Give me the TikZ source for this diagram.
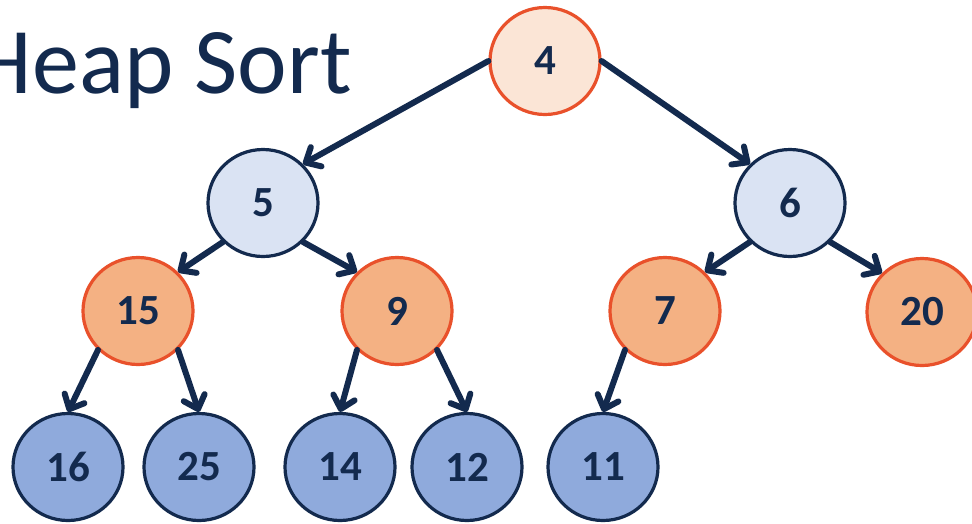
\documentclass[tikz,border=0pt]{standalone}
\usepackage{fontspec}
\setmainfont{Carlito}
\usetikzlibrary{shapes.geometric,arrows.meta}
\definecolor{navy}{HTML}{132A4E}
\definecolor{orangeline}{HTML}{E9512B}
\definecolor{peach}{HTML}{FBE5D6}
\definecolor{paleblue}{HTML}{DAE3F3}
\definecolor{orangefill}{HTML}{F4B183}
\definecolor{bluefill}{HTML}{8FAADC}
\tikzset{
  heapnode/.style={ellipse, minimum width=110pt, minimum height=107pt, inner sep=0pt,
    line width=3.2pt, font=\fontsize{43}{43}\selectfont\bfseries, text=navy},
  rootnode/.style={heapnode, draw=orangeline, fill=peach},
  innernode/.style={heapnode, draw=navy, fill=paleblue},
  swapnode/.style={heapnode, draw=orangeline, fill=orangefill},
  leafnode/.style={heapnode, draw=navy, fill=bluefill},
  edge/.style={draw=navy, line width=6pt, line cap=round,
    -{Straight Barb[length=12pt, width=22pt, line cap=round, line join=round]}},
}
\begin{document}
\begin{tikzpicture}[x=1pt, y=-1pt]
\useasboundingbox[fill=white] (0,0) rectangle (972,523);
\node[anchor=base east, text=navy, font=\fontsize{94}{94}\selectfont, inner sep=0pt] (title) at (352,93) {Heap Sort};
\node[rootnode] (n4) at (545,61) {4};
\node[innernode] (n5) at (263,203) {5};
\node[innernode] (n6) at (790,203) {6};
\node[swapnode] (n15) at (138,311) {15};
\node[swapnode] (n9) at (397,311) {9};
\node[swapnode] (n7) at (665,311) {7};
\node[swapnode] (n20) at (922,312) {20};
\node[leafnode] (n16) at (68,467) {16};
\node[leafnode] (n25) at (199,467) {25};
\node[leafnode] (n14) at (340,467) {14};
\node[leafnode] (n12) at (467,467) {12};
\node[leafnode] (n11) at (603,467) {11};
\draw[edge] (n4.west) -- (n5.north east);
\draw[edge] (n4.east) -- (n6.north west);
\draw[edge] (n5.south west) -- (n15.north east);
\draw[edge] (n5.south east) -- (n9.north west);
\draw[edge] (n6.south west) -- (n7.north east);
\draw[edge] (n6.south east) -- (n20.north west);
\draw[edge] (n15.south west) -- (n16.north);
\draw[edge] (n15.south east) -- (n25.north);
\draw[edge] (n9.south west) -- (n14.north);
\draw[edge] (n9.south east) -- (n12.north);
\draw[edge] (n7.south west) -- (n11.north);
\end{tikzpicture}
\end{document}
